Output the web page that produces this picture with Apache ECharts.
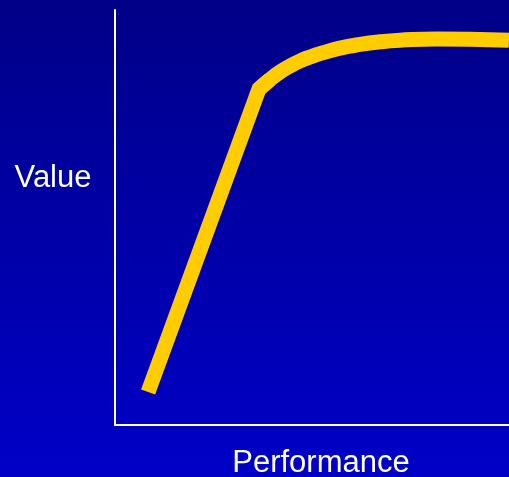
<!DOCTYPE html>
<html>
<head>
<meta charset="utf-8">
<style>
  html, body { margin: 0; padding: 0; }
  #chart { width: 509px; height: 477px; }
</style>
<script src="https://cdn.jsdelivr.net/npm/echarts@6/dist/echarts.min.js"></script>
</head>
<body>
<div id="chart"></div>
<script>
// Performance vs. value curve: steep linear rise, then a soft plateau.
const performance = [8.4, 36.55, 39.34, 41.88, 44.42, 46.95, 49.49, 52.03, 57.11, 62.18, 67.26, 72.34, 81.73, 90.10, 100];
const value       = [7.95, 80.96, 83.25, 85.06, 86.51, 87.71, 88.67, 89.49, 90.80, 91.71, 92.34, 92.72, 93.04, 92.96, 92.70];

const xAxisName = 'Performance';
const yAxisName = 'Value';

const chart = echarts.init(document.getElementById('chart'), null, { renderer: 'canvas' });

const points = performance.map((p, i) => [p, value[i]]);
// index of the sharp knee where the linear rise turns into the plateau
const knee = 1;

const labelFont = '31px "Liberation Sans", Arial, sans-serif';
const curveStyle = { color: '#ffcc00', width: 15, cap: 'butt', join: 'miter' };

chart.setOption({
  animation: false,
  backgroundColor: {
    type: 'linear', x: 0, y: 0, x2: 0, y2: 1,
    colorStops: [
      { offset: 0, color: '#000088' },
      { offset: 1, color: '#0000c8' }
    ]
  },
  grid: { left: 115, top: 10, right: 0, bottom: 52, containLabel: false, outerBoundsMode: 'none' },
  xAxis: {
    type: 'value', min: 0, max: 100,
    axisLine: { show: true, lineStyle: { color: '#ffffff', width: 2 } },
    axisTick: { show: false }, axisLabel: { show: false }, splitLine: { show: false }
  },
  yAxis: {
    type: 'value', min: 0, max: 100,
    axisLine: { show: true, lineStyle: { color: '#ffffff', width: 2 } },
    axisTick: { show: false }, axisLabel: { show: false }, splitLine: { show: false }
  },
  graphic: [
    {
      type: 'text', x: 53, y: 178,
      style: { text: yAxisName, font: labelFont, fill: '#ffffff', align: 'center', verticalAlign: 'middle' }
    },
    {
      type: 'text', x: 321, y: 463,
      style: { text: xAxisName, font: labelFont, fill: '#ffffff', align: 'center', verticalAlign: 'middle' }
    }
  ],
  series: [
    {
      // straight rise up to the knee (plus the first plateau point for a mitred corner)
      type: 'line',
      data: points.slice(0, knee + 2),
      smooth: false,
      symbol: 'none',
      lineStyle: curveStyle
    },
    {
      // rounded plateau from the knee onward
      type: 'line',
      data: points.slice(knee),
      smooth: 0.5,
      symbol: 'none',
      lineStyle: curveStyle
    }
  ]
});
</script>
</body>
</html>
